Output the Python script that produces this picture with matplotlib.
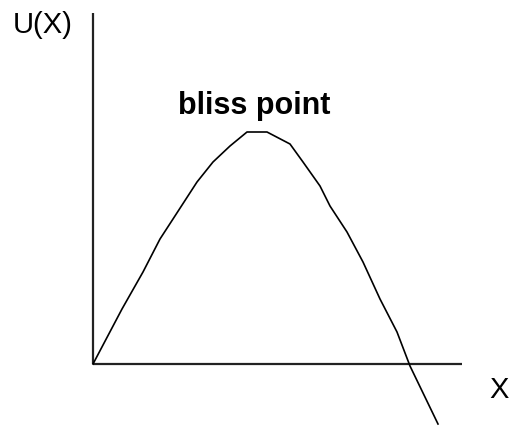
"""Utility curve with a bliss point."""

import matplotlib.pyplot as plt

# curve (x to the right of the origin, U upward)
x = [0, 29, 50, 67, 80, 104, 120, 137, 154, 174, 197, 210, 227, 237,
     254, 270, 287, 304, 317, 345]
u = [0, 55, 92, 125, 145, 182, 202, 218, 232, 232, 220, 202, 178, 158,
     132, 102, 65, 32, -2, -60]

x_axis_end = 369
y_axis_top = 351

plt.rcParams['font.family'] = ['Liberation Sans', 'DejaVu Sans']

fig = plt.figure(figsize=(5.09, 4.27), dpi=100)
ax = fig.add_axes([0, 0, 1, 1])
ax.set_xlim(-93, 416)
ax.set_ylim(-62, 365)
ax.axis('off')

# axes drawn by hand, like the sketch
ax.plot([0, 0], [0, y_axis_top], color='#222222', lw=1.6, solid_capstyle='butt')
ax.plot([0, x_axis_end], [0, 0], color='#222222', lw=1.6, solid_capstyle='butt')

ax.plot(x, u, color='black', lw=1.2)

ax.text(-80, 340, "U(X)", fontsize=21, ha='left', va='center')
ax.text(396, -25, "X", fontsize=21, ha='left', va='center')
ax.text(161, 259, "bliss point", fontsize=22, fontweight='bold',
        ha='center', va='center')

fig.savefig('out.png', dpi=100)
